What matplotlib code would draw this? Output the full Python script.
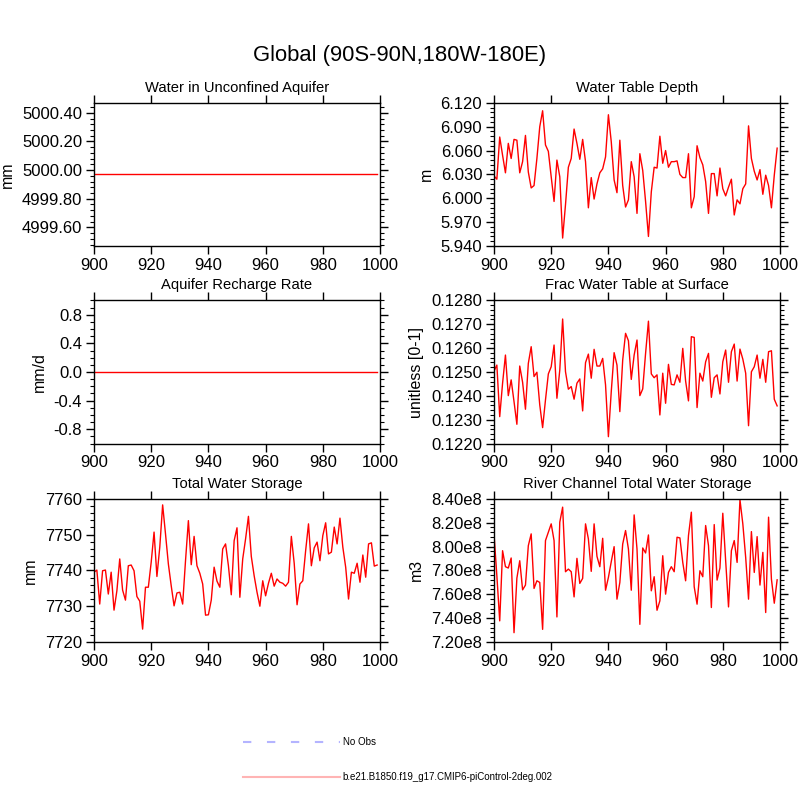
import numpy as np
import matplotlib
matplotlib.use('Agg')
import matplotlib.pyplot as plt
from matplotlib.ticker import MultipleLocator, FuncFormatter
from matplotlib.lines import Line2D

plt.rcParams['font.family'] = ['Liberation Sans', 'DejaVu Sans']

# ---- data ----
years = list(range(900, 1000))

# both left-top and middle-left series are flat in the picture
aquifer_water = [4999.97] * 100
recharge_rate = [0.0] * 100

water_table_depth = [
    6.028, 6.024, 6.077, 6.054, 6.032, 6.069, 6.050, 6.074, 6.073, 6.032,
    6.046, 6.079, 6.033, 6.013, 6.016, 6.050, 6.090, 6.110, 6.067, 6.059,
    6.027, 5.996, 6.048, 6.027, 5.950, 5.992, 6.039, 6.050, 6.087, 6.069,
    6.049, 6.074, 6.046, 5.988, 6.026, 5.999, 6.018, 6.032, 6.037, 6.052,
    6.105, 6.071, 6.023, 6.007, 6.073, 6.016, 5.989, 5.998, 6.046, 6.027,
    5.981, 6.056, 6.035, 5.996, 5.952, 6.008, 6.039, 6.038, 6.078, 6.044,
    6.060, 6.039, 6.046, 6.046, 6.047, 6.030, 6.026, 6.026, 6.056, 5.988,
    6.002, 6.066, 6.051, 6.042, 6.021, 5.981, 6.031, 6.031, 6.003, 6.038,
    6.012, 6.003, 6.014, 6.024, 5.979, 5.998, 5.993, 6.012, 6.018, 6.091,
    6.050, 6.034, 6.023, 6.036, 6.005, 6.029, 6.016, 5.988, 6.029, 6.063,
]

frac_water_table = [
    0.12504, 0.12529, 0.12313, 0.12453, 0.12571, 0.12401, 0.12467, 0.12376, 0.12281, 0.12525,
    0.12457, 0.12344, 0.12536, 0.12606, 0.12481, 0.12499, 0.12362, 0.12267, 0.12383, 0.12492,
    0.12522, 0.12613, 0.12390, 0.12508, 0.12722, 0.12501, 0.12428, 0.12439, 0.12386, 0.12453,
    0.12471, 0.12337, 0.12539, 0.12575, 0.12474, 0.12595, 0.12525, 0.12525, 0.12557, 0.12446,
    0.12229, 0.12418, 0.12581, 0.12529, 0.12334, 0.12550, 0.12662, 0.12631, 0.12469, 0.12571,
    0.12634, 0.12401, 0.12429, 0.12578, 0.12713, 0.12492, 0.12476, 0.12488, 0.12320, 0.12495,
    0.12369, 0.12532, 0.12448, 0.12446, 0.12488, 0.12457, 0.12599, 0.12462, 0.12379, 0.12648,
    0.12645, 0.12351, 0.12495, 0.12462, 0.12543, 0.12578, 0.12394, 0.12476, 0.12488, 0.12408,
    0.12543, 0.12592, 0.12457, 0.12585, 0.12617, 0.12462, 0.12596, 0.12554, 0.12495, 0.12275,
    0.12501, 0.12522, 0.12571, 0.12474, 0.12553, 0.12457, 0.12585, 0.12589, 0.12386, 0.12358,
]

total_water_storage = [
    7739.5, 7740.1, 7730.6, 7739.9, 7740.1, 7733.4, 7739.5, 7728.9, 7734.3, 7743.2,
    7734.5, 7731.7, 7741.3, 7741.5, 7739.9, 7732.7, 7731.4, 7723.6, 7735.3, 7735.3,
    7742.3, 7750.7, 7738.3, 7746.5, 7758.3, 7750.2, 7741.8, 7735.7, 7730.1, 7733.7,
    7733.9, 7730.6, 7742.7, 7753.9, 7741.6, 7749.5, 7741.3, 7739.2, 7736.2, 7727.5,
    7727.6, 7731.7, 7740.9, 7737.0, 7735.3, 7746.0, 7747.4, 7741.3, 7733.2, 7748.3,
    7751.9, 7732.5, 7743.2, 7748.8, 7755.1, 7743.9, 7738.5, 7733.9, 7730.0, 7737.1,
    7732.9, 7736.4, 7739.2, 7735.6, 7737.6, 7736.7, 7736.4, 7735.6, 7736.7, 7749.5,
    7742.0, 7730.4, 7736.2, 7737.1, 7745.5, 7753.0, 7741.3, 7746.3, 7747.9, 7742.7,
    7749.7, 7753.3, 7744.6, 7745.1, 7752.1, 7747.4, 7754.6, 7746.5, 7740.9, 7732.0,
    7739.5, 7739.2, 7742.0, 7736.7, 7744.3, 7738.1, 7747.4, 7747.7, 7741.2, 7741.5,
]

river_storage_e8 = [
    8.106, 7.755, 7.377, 7.965, 7.831, 7.820, 7.904, 7.278, 7.735, 7.881,
    7.637, 7.677, 8.007, 8.106, 7.649, 7.713, 7.699, 7.306, 8.050, 8.120,
    8.190, 8.050, 7.410, 8.204, 8.330, 7.789, 7.811, 7.789, 7.578, 7.901,
    7.691, 7.733, 8.190, 8.064, 7.792, 8.190, 7.918, 7.831, 8.069, 7.634,
    7.741, 7.873, 7.999, 7.559, 7.699, 8.021, 8.134, 7.979, 7.634, 8.265,
    7.979, 7.348, 7.988, 7.946, 8.097, 7.629, 7.747, 7.466, 7.545, 7.923,
    7.601, 7.783, 7.831, 7.789, 8.078, 8.072, 7.867, 7.713, 8.092, 8.288,
    7.663, 7.517, 7.797, 7.747, 8.176, 8.007, 7.489, 8.184, 7.719, 7.820,
    8.279, 7.881, 7.494, 7.965, 8.050, 7.867, 8.392, 8.190, 7.909, 7.559,
    8.125, 7.783, 8.083, 7.677, 7.951, 7.447, 8.246, 7.727, 7.525, 7.721,
]
river_storage = [v * 1e8 for v in river_storage_e8]

case_name = 'b.e21.B1850.f19_g17.CMIP6-piControl-2deg.002'

# ---- figure ----
fig = plt.figure(figsize=(8, 8), dpi=100)
fig.text(0.5, 0.930, 'Global (90S-90N,180W-180E)', ha='center', va='center', fontsize=15.8)

left_x, right_x, w, h = 0.1175, 0.6175, 0.3575, 0.179
rows = [0.6925, 0.4455, 0.1975]

# (series, title, ylabel, ylim, major, minor, formatter)
panels = [
    (aquifer_water, 'Water in Unconfined Aquifer', 'mm', (4999.47, 5000.47), 0.2, 0.04, '%.2f'),
    (water_table_depth, 'Water Table Depth', 'm', (5.94, 6.12), 0.03, 0.006, '%.3f'),
    (recharge_rate, 'Aquifer Recharge Rate', 'mm/d', (-1.0, 1.0), 0.4, 0.1, '%.1f'),
    (frac_water_table, 'Frac Water Table at Surface', 'unitless [0-1]', (0.122, 0.128), 0.001, 0.0002, '%.4f'),
    (total_water_storage, 'Total Water Storage', 'mm', (7720, 7760), 10, 2, '%d'),
    (river_storage, 'River Channel Total Water Storage', 'm3', (7.2e8, 8.4e8), 0.2e8, 0.04e8, 'e8'),
]

for i, (vals, title, ylab, ylim, major, minor, fmt) in enumerate(panels):
    x0 = left_x if i % 2 == 0 else right_x
    ax = fig.add_axes([x0, rows[i // 2], w, h])
    ax.plot(years, vals, color='red', lw=1.0)
    ax.set_xlim(900, 1000)
    ax.set_ylim(*ylim)
    ax.xaxis.set_major_locator(MultipleLocator(20))
    ax.yaxis.set_major_locator(MultipleLocator(major))
    ax.yaxis.set_minor_locator(MultipleLocator(minor))
    if fmt == 'e8':
        ax.yaxis.set_major_formatter(FuncFormatter(lambda v, p: '%.2fe8' % (v / 1e8)))
    else:
        ax.yaxis.set_major_formatter(FuncFormatter(lambda v, p, f=fmt: f % v))
    ax.tick_params(axis='both', which='major', direction='out', length=5.5, width=1,
                   labelsize=12, top=True, right=True, pad=3)
    ax.tick_params(axis='y', which='minor', direction='out', length=3, width=0.8,
                   right=True)
    for sp in ax.spines.values():
        sp.set_linewidth(1.0)
    ax.set_title(title, fontsize=10.6, pad=8)
    ax.set_ylabel(ylab, fontsize=11.5, labelpad=5)

# legend at the bottom
handles = [
    Line2D([], [], color='#b4b4ff', lw=1.5, dashes=(4, 7.5)),
    Line2D([], [], color='#ffb4b4', lw=1.5),
]
fig.legend(handles, ['No Obs', case_name], loc='center left',
           bbox_to_anchor=(0.2925, 0.0506), frameon=False, fontsize=7,
           handlelength=10.0, handletextpad=0.3, labelspacing=2.58)

fig.savefig('out.png', dpi=100)
